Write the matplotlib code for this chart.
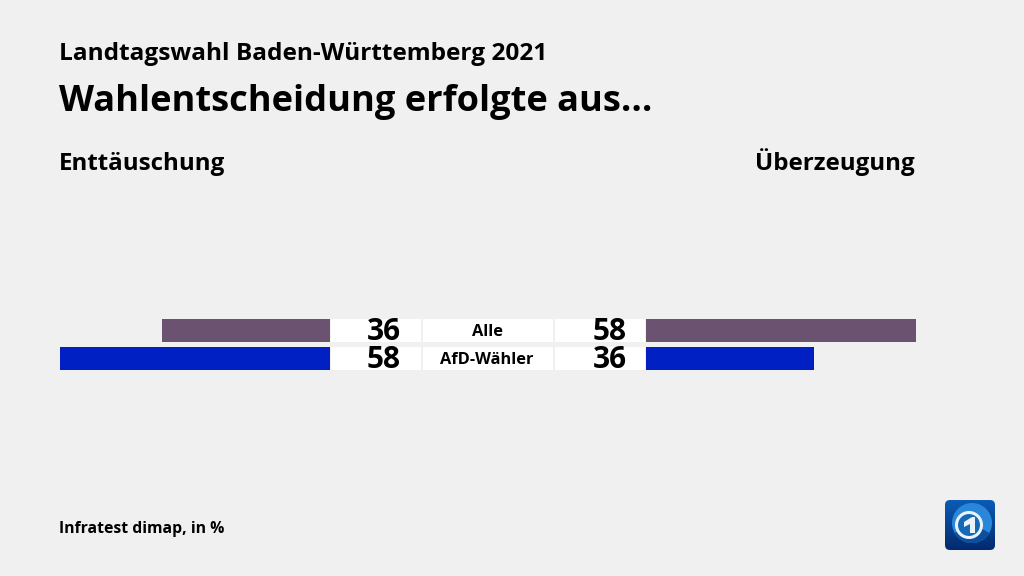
import matplotlib
matplotlib.use("Agg")
import matplotlib.pyplot as plt
import numpy as np
from matplotlib.patches import Circle, FancyBboxPatch, Rectangle, Polygon, Wedge

categories = ["Alle", "AfD-Wähler"]
enttaeuschung = [36, 58]
ueberzeugung = [58, 36]
colors = ["#6a5270", "#0020c4"]

BG = "#f0f0f0"
W, H = 1024, 576
plt.rcParams["font.family"] = ["Open Sans", "DejaVu Sans"]

fig = plt.figure(figsize=(W / 100, H / 100), dpi=100, facecolor=BG)


def px_axes(x0, y0, x1, y1):
    # axes placed by pixel box, y0/y1 counted from the top
    a = fig.add_axes([x0 / W, 1 - y1 / H, (x1 - x0) / W, (y1 - y0) / H])
    a.axis("off")
    return a


# overlay in pixel coordinates for boxes and text
ax = px_axes(0, 0, W, H)
ax.set_xlim(0, W); ax.set_ylim(H, 0)

left = px_axes(60, 318, 330, 371)
right = px_axes(646, 318, 916, 371)
ypos = np.arange(len(categories))
for a in (left, right):
    a.set_ylim(1.446, -0.446)
left.set_xlim(58, 0)
right.set_xlim(0, 58)
left.barh(ypos, enttaeuschung, height=0.82, color=colors)
right.barh(ypos, ueberzeugung, height=0.82, color=colors)

row_y = [330.5, 358.5]
for i, cat in enumerate(categories):
    y = row_y[i]
    for x0, x1 in [(331, 421), (423, 553), (555, 645)]:
        ax.add_patch(Rectangle((x0, y - 12), x1 - x0, 23.5, fc="white", ec="none"))
    ax.text(383.5, y + 10, str(enttaeuschung[i]), ha="center", va="baseline",
            fontsize=21.5, fontweight="bold", color="black")
    ax.text(609.5, y + 10, str(ueberzeugung[i]), ha="center", va="baseline",
            fontsize=21.5, fontweight="bold", color="black")
    ax.text(487, y + 5, cat, ha="center", va="baseline",
            fontsize=11.8, fontweight="bold", color="black")

ax.text(59, 60, "Landtagswahl Baden-Württemberg 2021", ha="left", va="baseline",
        fontsize=17.6, fontweight="bold", color="black")
ax.text(59, 111, "Wahlentscheidung erfolgte aus...", ha="left", va="baseline",
        fontsize=26.1, fontweight="bold", color="black")
ax.text(59, 170, "Enttäuschung", ha="left", va="baseline",
        fontsize=17.4, fontweight="bold", color="black")
ax.text(915, 170, "Überzeugung", ha="right", va="baseline",
        fontsize=17.4, fontweight="bold", color="black")
ax.text(59, 533, "Infratest dimap, in %", ha="left", va="baseline",
        fontsize=11.3, fontweight="bold", color="black")

# tagesschau logo
clip = FancyBboxPatch((947, 502), 46, 46, boxstyle="round,pad=2,rounding_size=5",
                      fc="none", ec="none", transform=ax.transData)
ax.add_patch(clip)
grad = np.linspace(0, 1, 50).reshape(-1, 1)
base = np.array([0x0a, 0x5c, 0xb4]) * (1 - grad) + np.array([0x02, 0x2a, 0x6e]) * grad
im = ax.imshow(base[:, None, :].repeat(50, axis=1) / 255, extent=(945, 995, 550, 500),
               zorder=2, aspect="auto")
im.set_clip_path(clip)
ax.set_xlim(0, W); ax.set_ylim(H, 0)
globe = Circle((972, 523), 20, fc="#2a86d8", ec="none", zorder=3)
ax.add_patch(globe); globe.set_clip_path(clip)
shade = Wedge((972, 523), 20, 30, 150, fc="#0d4f9e", ec="none", zorder=3)
ax.add_patch(shade); shade.set_clip_path(clip)
ax.add_patch(Circle((969, 525), 12.5, fc="#1668b8", ec="#e8f2fb", lw=2.2, zorder=4))
ax.add_patch(Polygon([(964, 522), (972, 517), (975, 517), (975, 533), (970, 533), (970, 524), (964, 527)],
                     fc="#eaf4fc", ec="none", zorder=5))

fig.savefig("out.png", dpi=100, facecolor=BG)
